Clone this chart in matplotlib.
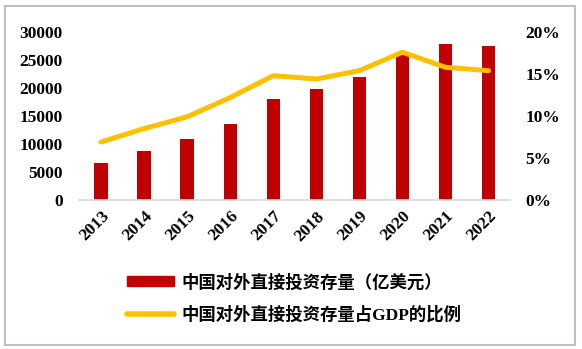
import matplotlib.pyplot as plt
from matplotlib.patches import Rectangle
from matplotlib.lines import Line2D
import numpy as np

plt.rcParams['font.family'] = ['Liberation Serif', 'Noto Sans CJK SC']
plt.rcParams['font.weight'] = 'bold'

# Data
years = ['2013', '2014', '2015', '2016', '2017', '2018', '2019', '2020', '2021', '2022']
stock = [6605, 8826, 10979, 13574, 18090, 19823, 21989, 25807, 27852, 27548]
gdp_share = [6.9, 8.5, 9.9, 12.2, 14.8, 14.4, 15.4, 17.6, 15.8, 15.4]

bar_label = '中国对外直接投资存量（亿美元）'
line_label = '中国对外直接投资存量占GDP的比例'

bar_color = '#C00000'
line_color = '#FFC000'

fig = plt.figure(figsize=(5.82, 3.49), dpi=100)
W, H = 582, 349
ax = fig.add_axes([79.5 / W, 1 - 200 / H, (510 - 79.5) / W, 168 / H])
ax2 = ax.twinx()

x = np.arange(len(years))
ax.bar(x, stock, width=0.31, color=bar_color, zorder=2)
ax2.plot(x, gdp_share, color=line_color, linewidth=3.6, solid_capstyle='round',
         solid_joinstyle='round', zorder=3)

ax.set_xlim(-0.5, len(years) - 0.5)
ax.set_ylim(0, 30000)
ax.set_yticks(range(0, 30001, 5000))
ax2.set_ylim(0, 20)
ax2.set_yticks(range(0, 21, 5))
ax2.set_yticklabels([f'{v}%' for v in range(0, 21, 5)])

ax.set_xticks(x)
ax.set_xticklabels(years, rotation=45, ha='right', rotation_mode='anchor')

for a in (ax, ax2):
    for s in a.spines.values():
        s.set_visible(False)
    a.tick_params(length=0, labelsize=12.5)
ax.spines['bottom'].set_visible(True)
ax.spines['bottom'].set_color('#D9D9D9')
ax.spines['bottom'].set_linewidth(1.2)
ax.tick_params(axis='y', pad=12)
ax.tick_params(axis='x', pad=6)
ax2.tick_params(axis='y', pad=11)

# legend
handles = [Rectangle((0, 0), 1, 1, color=bar_color),
           Line2D([0], [0], color=line_color, linewidth=4, solid_capstyle='round')]
fig.legend(handles, [bar_label, line_label], loc='center left',
           bbox_to_anchor=(111 / W, 1 - 299 / H), frameon=False,
           prop={'size': 12.5, 'weight': 'bold'}, handlelength=2.7, handleheight=0.5,
           labelspacing=0.85, handletextpad=0.45)

# outer border
fig.patches.append(Rectangle((4.5 / W, 4.5 / H), (575 - 4.5) / W, (343.5 - 4.5) / H,
                             transform=fig.transFigure, fill=False,
                             edgecolor='#BFBFBF', linewidth=1.5))

fig.savefig('out.png', dpi=100)
